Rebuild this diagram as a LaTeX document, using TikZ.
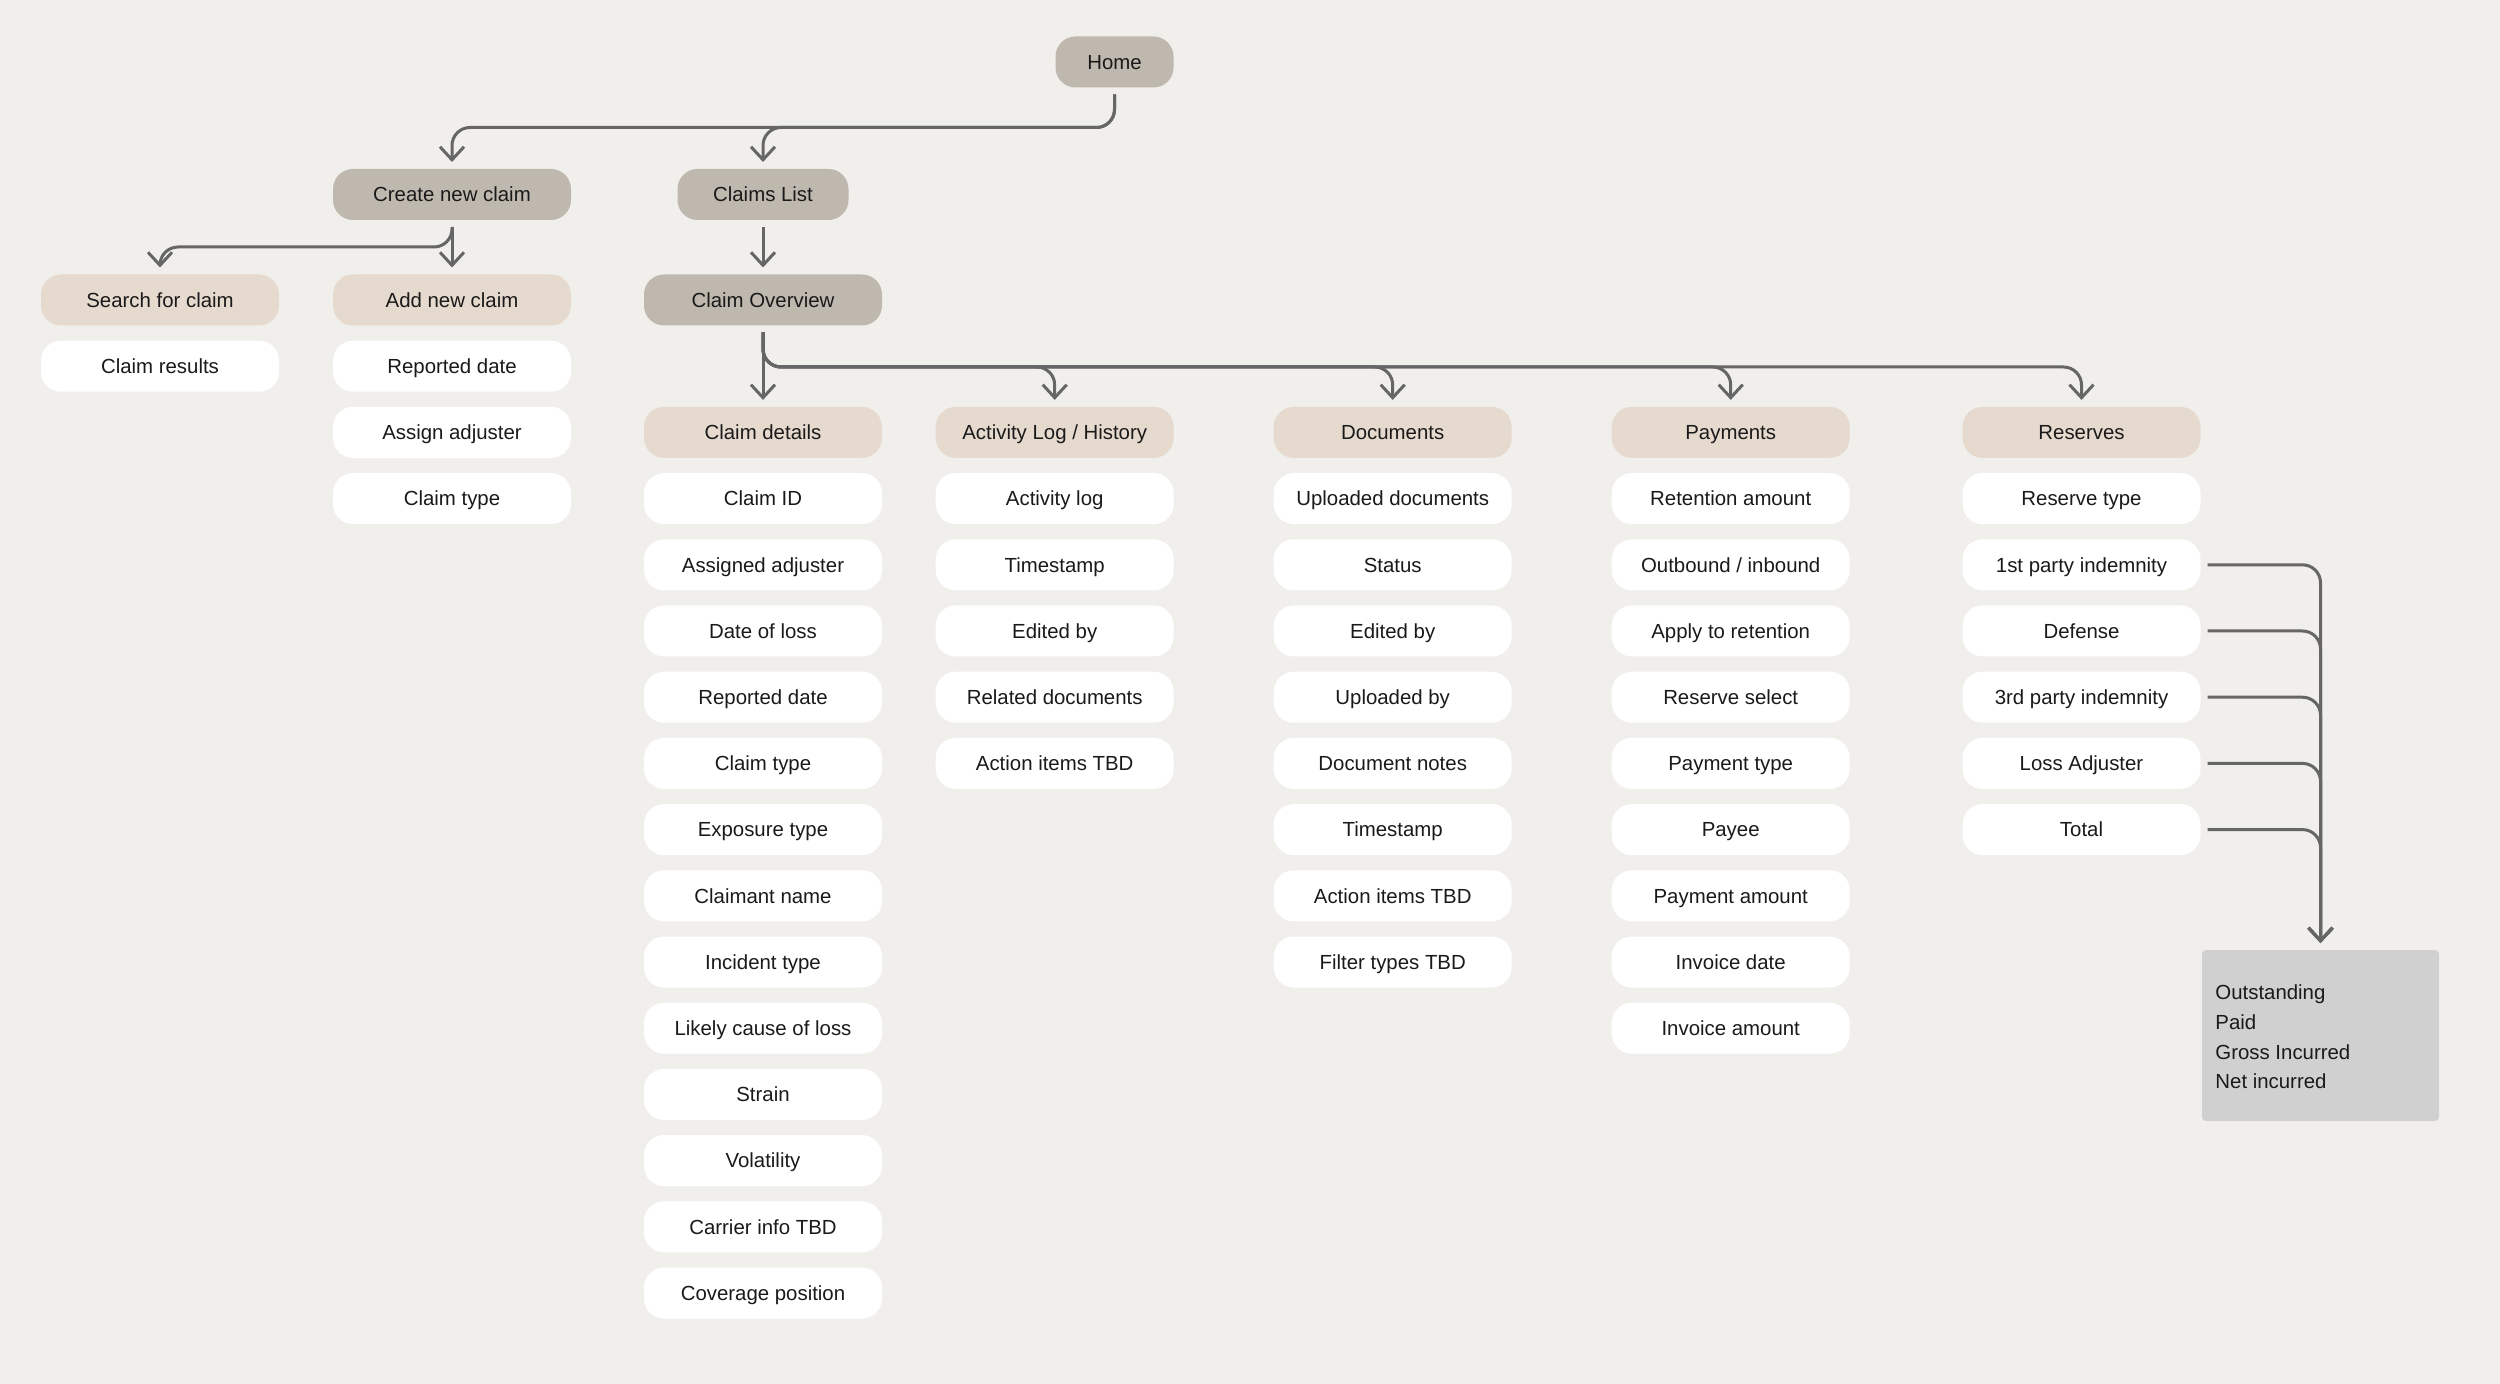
\documentclass[tikz,border=0pt]{standalone}
\usepackage{fontspec}
\setmainfont{Liberation Sans}
\usetikzlibrary{arrows.meta}
\definecolor{bg}{HTML}{F0EFEB}
\definecolor{darkfill}{HTML}{BFB8AE}
\definecolor{beigefill}{HTML}{E6DACF}
\definecolor{boxgray}{HTML}{D0D0D0}
\definecolor{linec}{HTML}{666666}
\definecolor{txt}{HTML}{1A1A1A}
\begin{document}
\begin{tikzpicture}[x=0.5pt,y=-0.5pt,
 basebox/.style={rounded corners=10pt, minimum width=119pt, minimum height=25.5pt, inner sep=0pt, outer sep=3.5pt, text=txt, text height=7.3pt, text depth=0pt, font=\fontsize{10.2}{12}\selectfont},
 topbox/.style={basebox, fill=darkfill},
 headbox/.style={basebox, fill=beigefill},
 itembox/.style={basebox, fill=white},
 conn/.style={draw=linec, line width=1.5pt, rounded corners=9pt},
 arr/.style={conn, -{Straight Barb[length=6.5pt,width=12pt]}},
]
\fill[bg] (0,0) rectangle (2500,1384);

% top levels
\node[topbox, minimum width=59pt] (home) at (1114.5,62) {Home};
\node[topbox] (create) at (452,194.5) {Create new claim};
\node[topbox, minimum width=85.5pt] (clist) at (763,194.5) {Claims List};
\node[topbox] (over) at (763,300) {Claim Overview};

% left columns
\node[headbox] (search) at (160,300) {Search for claim};
\node[itembox] (results) at (160,366.2) {Claim results};
\node[headbox] (add) at (452,300) {Add new claim};
\foreach \t [count=\i] in {Reported date, Assign adjuster, Claim type}
  \node[itembox] (ad\i) at (452,{300+66.2*\i}) {\t};

% section headers
\node[headbox] (cdet) at (763,432.4) {Claim details};
\node[headbox] (act) at (1054.7,432.4) {Activity Log / History};
\node[headbox] (docs) at (1392.7,432.4) {Documents};
\node[headbox] (pay) at (1730.7,432.4) {Payments};
\node[headbox] (res) at (2081.5,432.4) {Reserves};

\foreach \t [count=\i] in {Claim ID, Assigned adjuster, Date of loss, Reported date, Claim type, Exposure type, Claimant name, Incident type, Likely cause of loss, Strain, Volatility, Carrier info TBD, Coverage position}
  \node[itembox] (cd\i) at (763,{300+66.2*(\i+2)}) {\t};
\foreach \t [count=\i] in {Activity log, Timestamp, Edited by, Related documents, Action items TBD}
  \node[itembox] (al\i) at (1054.7,{300+66.2*(\i+2)}) {\t};
\foreach \t [count=\i] in {Uploaded documents, Status, Edited by, Uploaded by, Document notes, Timestamp, Action items TBD, Filter types TBD}
  \node[itembox] (dc\i) at (1392.7,{300+66.2*(\i+2)}) {\t};
\foreach \t [count=\i] in {Retention amount, Outbound / inbound, Apply to retention, Reserve select, Payment type, Payee, Payment amount, Invoice date, Invoice amount}
  \node[itembox] (py\i) at (1730.7,{300+66.2*(\i+2)}) {\t};
\foreach \t [count=\i] in {Reserve type, 1st party indemnity, Defense, 3rd party indemnity, Loss Adjuster, Total}
  \node[itembox] (rs\i) at (2081.5,{300+66.2*(\i+2)}) {\t};

% totals box
\node[fill=boxgray, rounded corners=2pt, minimum width=118.5pt, minimum height=85.5pt, inner sep=0pt, outer sep=3.5pt] (tot) at (2320.5,1035.5) {};
\node[anchor=west, align=left, inner sep=0pt, text=txt, font=\fontsize{10.2}{14.85}\selectfont] (tottxt) at (2215,1037) {Outstanding\\Paid\\Gross Incurred\\Net incurred};

% connectors
\coordinate (hh) at (1114.5,127.5);
\draw[arr] (home.south) -- (hh) -| (create.north);
\draw[arr] (home.south) -- (hh) -| (clist.north);

\coordinate (ch) at (452,247);
\draw[arr] (create.south) -- (ch) -| (search.north);
\draw[arr] (create.south) -- (add.north);

\draw[arr] (clist.south) -- (over.north);

\coordinate (oh) at (763,367);
\draw[arr] (over.south) -- (cdet.north);
\foreach \n in {act, docs, pay, res}
  \draw[arr] (over.south) -- (oh) -| (\n.north);

\foreach \i in {2,...,6}
  \draw[arr] (rs\i.east) -| (tot.north);
\end{tikzpicture}
\end{document}
